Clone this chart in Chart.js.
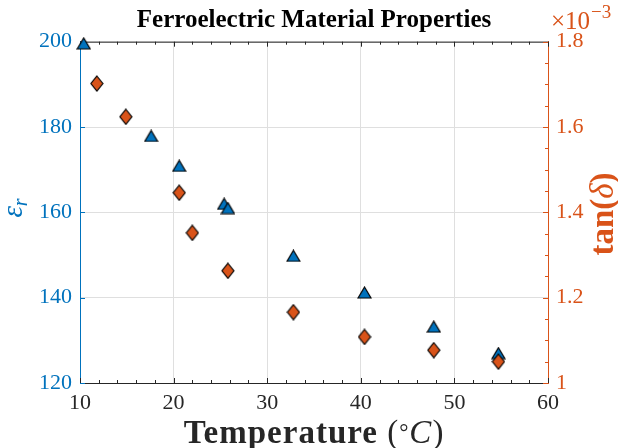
<!DOCTYPE html>
<html>
<head>
<meta charset="utf-8">
<script src="https://cdn.jsdelivr.net/npm/chart.js@4.4.1/dist/chart.umd.min.js"></script>
<style>
html,body{margin:0;padding:0;background:#ffffff;}
#wrap{width:618px;height:448px;position:relative;}
</style>
</head>
<body>
<div id="wrap"><canvas id="chart" width="618" height="448"></canvas></div>
<script>
// ---- data ----
const chartTitle = 'Ferroelectric Material Properties';
const xTickValues = [10, 20, 30, 40, 50, 60];
const leftTickValues = [120, 140, 160, 180, 200];
const rightTickValues = [1, 1.2, 1.4, 1.6, 1.8];
const rightTickLabels = ['1', '1.2', '1.4', '1.6', '1.8'];

// relative permittivity (left axis)
const tempEps = [10.4, 17.6, 20.6, 25.4, 25.8, 32.8, 40.4, 47.8, 54.7];
const epsR    = [199.6, 177.9, 170.9, 162.0, 161.0, 149.8, 141.2, 133.2, 127.0];

// loss tangent, units of 1e-3 (right axis)
const tempTan  = [11.8, 14.9, 20.6, 22.0, 25.8, 32.8, 40.4, 47.8, 54.7];
const tanDelta = [1.702, 1.624, 1.446, 1.352, 1.263, 1.166, 1.108, 1.077, 1.050];

// ---- styles ----
const BLUE = '#0072BD';
const ORANGE = '#D95319';
const AXIS_DARK = '#262626';
const GRID = '#dfdfdf';
const SERIF = '"Liberation Serif", "Times New Roman", serif';

function makeTriangle() {
  const c = document.createElement('canvas');
  c.width = 15; c.height = 13;
  const g = c.getContext('2d');
  g.beginPath();
  g.moveTo(7.5, 1); g.lineTo(14, 12); g.lineTo(1, 12); g.closePath();
  g.fillStyle = BLUE; g.fill();
  g.lineWidth = 1.2; g.strokeStyle = '#000'; g.lineJoin = 'miter'; g.stroke();
  return c;
}
function makeDiamond() {
  const c = document.createElement('canvas');
  c.width = 14; c.height = 17;
  const g = c.getContext('2d');
  g.beginPath();
  g.moveTo(7, 1); g.lineTo(13, 8.5); g.lineTo(7, 16); g.lineTo(1, 8.5); g.closePath();
  g.fillStyle = ORANGE; g.fill();
  g.lineWidth = 1.2; g.strokeStyle = '#000'; g.stroke();
  return c;
}

const axisDecor = {
  id: 'axisDecor',
  beforeDatasetsDraw(chart) {
    const { ctx, chartArea: a, scales } = chart;
    const x = scales.x, yl = scales.y, yr = scales.y1;
    ctx.save();
    ctx.lineWidth = 1;
    ctx.strokeStyle = AXIS_DARK;
    ctx.beginPath(); ctx.moveTo(a.left, a.top + 0.5); ctx.lineTo(a.right, a.top + 0.5); ctx.stroke();
    ctx.beginPath();
    for (let v = xTickValues[0]; v <= xTickValues[xTickValues.length - 1] + 1e-9; v += 2) {
      const isMajor = xTickValues.some(t => Math.abs(t - v) < 1e-6);
      const len = isMajor ? 5 : 3;
      const px = Math.round(x.getPixelForValue(v)) + 0.5;
      ctx.moveTo(px, a.bottom); ctx.lineTo(px, a.bottom - len);
      ctx.moveTo(px, a.top); ctx.lineTo(px, a.top + len);
    }
    ctx.stroke();
    ctx.strokeStyle = BLUE;
    ctx.beginPath();
    leftTickValues.forEach(v => {
      const py = Math.round(yl.getPixelForValue(v)) + 0.5;
      ctx.moveTo(a.left, py); ctx.lineTo(a.left + 5, py);
    });
    ctx.stroke();
    ctx.strokeStyle = ORANGE;
    ctx.beginPath();
    for (let k = 0; k <= 16; k++) {
      const v = 1 + k * 0.05;
      const len = (k % 4 === 0) ? 5 : 3;
      const py = Math.round(yr.getPixelForValue(v)) + 0.5;
      ctx.moveTo(a.right, py); ctx.lineTo(a.right - len, py);
    }
    ctx.stroke();
    ctx.restore();
  },
  afterDraw(chart) {
    const { ctx, chartArea: a } = chart;
    ctx.save();
    // x-axis title
    const cx = (a.left + a.right) / 2;
    const base = 443;
    ctx.letterSpacing = '1px';
    const parts = [
      { t: 'Temperature ', f: 'bold 33px ' + SERIF, dy: 0 },
      { t: '(', f: '33px ' + SERIF, dy: 0 },
      { t: '\u00B0', f: '23px ' + SERIF, dy: -3 },
      { t: 'C', f: 'italic 33px ' + SERIF, dy: 0 },
      { t: ')', f: '33px ' + SERIF, dy: 0 }
    ];
    let total = 0;
    parts.forEach(p => { ctx.font = p.f; p.w = ctx.measureText(p.t).width; total += p.w; });
    let px = cx - total / 2;
    ctx.fillStyle = AXIS_DARK;
    ctx.textBaseline = 'alphabetic';
    ctx.textAlign = 'left';
    parts.forEach(p => { ctx.font = p.f; ctx.fillText(p.t, px, base + p.dy); px += p.w; });
    ctx.letterSpacing = '0px';

    // left y title: epsilon_r
    ctx.save();
    ctx.translate(22, 208);
    ctx.rotate(-Math.PI / 2);
    ctx.fillStyle = BLUE;
    ctx.font = 'italic 29px ' + SERIF;
    const we = ctx.measureText('\u03B5').width;
    ctx.font = 'italic 20px ' + SERIF;
    const wr = ctx.measureText('r').width;
    let sx = -(we + wr) / 2;
    ctx.font = 'italic 29px ' + SERIF;
    ctx.fillText('\u03B5', sx, 0);
    ctx.font = 'italic 20px ' + SERIF;
    ctx.fillText('r', sx + we, 5);
    ctx.restore();

    // right y title: tan(delta)
    ctx.save();
    ctx.translate(613, 214);
    ctx.rotate(-Math.PI / 2);
    ctx.fillStyle = ORANGE;
    const rp = [
      { t: 'tan(', f: 'bold 33px ' + SERIF },
      { t: '\u03B4', f: 'italic 33px ' + SERIF },
      { t: ')', f: 'bold 33px ' + SERIF }
    ];
    let rt = 0;
    rp.forEach(p => { ctx.font = p.f; p.w = ctx.measureText(p.t).width; rt += p.w; });
    let rx = -rt / 2;
    rp.forEach(p => { ctx.font = p.f; ctx.fillText(p.t, rx, 0); rx += p.w; });
    ctx.restore();

    // exponent label x10^-3
    ctx.fillStyle = ORANGE;
    ctx.font = '25px ' + SERIF;
    ctx.fillText('\u00D710', 551, 29);
    const w10 = ctx.measureText('\u00D710').width;
    ctx.font = '19px ' + SERIF;
    ctx.fillText('\u22123', 551 + w10 + 1, 18);
    ctx.restore();
  }
};

const data = {
  datasets: [
    {
      label: 'epsilon_r',
      data: tempEps.map((t, i) => ({ x: t, y: epsR[i] })),
      yAxisID: 'y',
      pointStyle: makeTriangle(),
      pointRadius: 7,
      showLine: false,
      clip: false,
      order: 1
    },
    {
      label: 'tan(delta)',
      data: tempTan.map((t, i) => ({ x: t, y: tanDelta[i] })),
      yAxisID: 'y1',
      pointStyle: makeDiamond(),
      pointRadius: 7,
      showLine: false,
      clip: false,
      order: 0
    }
  ]
};

new Chart(document.getElementById('chart'), {
  type: 'scatter',
  data,
  options: {
    responsive: false,
    animation: false,
    devicePixelRatio: 1,
    layout: { padding: 0 },
    plugins: {
      legend: { display: false },
      tooltip: { enabled: false },
      title: {
        display: true,
        text: chartTitle,
        fullSize: false,
        color: '#000000',
        font: { family: SERIF, size: 25, weight: 'bold', lineHeight: 1.0 },
        padding: { top: 8, bottom: 8.7 }
      }
    },
    scales: {
      x: {
        type: 'linear',
        position: 'bottom',
        min: 10, max: 60,
        afterBuildTicks: s => { s.ticks = xTickValues.map(v => ({ value: v })); },
        afterFit: s => { s.height = 65; },
        grid: { color: GRID, lineWidth: 1, drawTicks: false },
        border: { display: true, color: AXIS_DARK, width: 1 },
        ticks: { color: AXIS_DARK, font: { family: SERIF, size: 22 }, padding: 7, maxRotation: 0, callback: v => String(v) }
      },
      y: {
        type: 'linear',
        position: 'left',
        min: 120, max: 200,
        afterBuildTicks: s => { s.ticks = leftTickValues.map(v => ({ value: v })); },
        afterFit: s => { s.width = 80; },
        grid: { color: GRID, lineWidth: 1, drawTicks: false },
        border: { display: true, color: BLUE, width: 1 },
        ticks: { color: BLUE, font: { family: SERIF, size: 22 }, padding: 8, callback: v => String(v) }
      },
      y1: {
        type: 'linear',
        position: 'right',
        min: 1, max: 1.8,
        afterBuildTicks: s => { s.ticks = rightTickValues.map(v => ({ value: v })); },
        afterFit: s => { s.width = 70; },
        grid: { display: false, drawOnChartArea: false, drawTicks: false },
        border: { display: true, color: ORANGE, width: 1 },
        ticks: { color: ORANGE, font: { family: SERIF, size: 22 }, padding: 8,
                 callback: (v, i) => rightTickLabels[rightTickValues.findIndex(t => Math.abs(t - v) < 1e-9)] }
      }
    }
  },
  plugins: [axisDecor]
});
</script>
</body>
</html>
